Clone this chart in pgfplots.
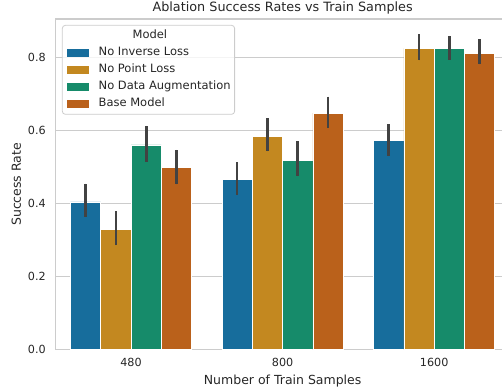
\documentclass[border=0pt]{standalone}
\usepackage{fontspec}
\setmainfont{DejaVu Sans}
\usepackage{pgfplots}
\pgfplotsset{compat=1.18}
\definecolor{cblue}{HTML}{176D9C}
\definecolor{corange}{HTML}{C38820}
\definecolor{cgreen}{HTML}{168B6A}
\definecolor{cred}{HTML}{BA611B}
\definecolor{errgray}{HTML}{424242}
\definecolor{linegray}{HTML}{CCCCCC}
\definecolor{textgray}{HTML}{262626}
\pgfplotsset{
  mybar/.style={fill=#1, draw=white, line width=0.7pt,
    legend image code/.code={\path (0pt,0pt); \fill[#1, draw=none, fill opacity=1, sharp corners] (2pt,-3.8pt) rectangle (24pt,3.8pt);},
    error bars/.cd, y dir=both, y explicit,
    error mark=none,
    error bar style={line width=2.6pt, color=errgray}},
}
\begin{document}
\begin{tikzpicture}
\begin{axis}[
  scale only axis, width=455pt, height=331pt,
  xmin=-0.5, xmax=2.5, ymin=0, ymax=0.904,
  ybar, bar width=30.3pt, bar shift=0pt,
  xtick={0,1,2}, xticklabels={480,800,1600},
  ytick={0,0.2,0.4,0.6,0.8},
  yticklabel style={/pgf/number format/fixed, /pgf/number format/fixed zerofill, /pgf/number format/precision=1, /pgf/number format/assume math mode=true, xshift=-6pt},
  major tick length=0pt,
  ymajorgrids, grid style={color=linegray, line width=1pt},
  axis line style={color=linegray, line width=1.25pt},
  tick label style={font=\fontsize{11.2}{13}\selectfont, color=textgray},
  xticklabel style={yshift=-5pt},
  every axis x label/.style={at={(axis description cs:0.5,0)}, yshift=-31.5pt, anchor=center},
  every axis y label/.style={at={(axis description cs:0,0.5)}, xshift=-39pt, rotate=90, anchor=center},
  label style={font=\fontsize{12.5}{14}\selectfont, color=textgray},
  xlabel={Number of Train Samples},
  ylabel={Success Rate},
  title={Ablation Success Rates vs Train Samples},
  every axis title/.style={at={(axis description cs:0.5,1)}, yshift=11pt, anchor=center, font=\fontsize{12.8}{14}\selectfont, color=textgray},
  legend style={at={(0.0147,0.982)}, anchor=north west, draw=linegray, line width=0.8pt,
    rounded corners=3pt, fill=white, fill opacity=0.8, text opacity=1, draw opacity=1,
    font=\fontsize{11.5}{13}\selectfont, text=textgray, inner sep=2pt,
    nodes={text height=8.5pt, text depth=2.5pt, inner ysep=3pt},
    /tikz/every odd column/.append style={column sep=8pt}},
  legend cell align=left,
]
\addlegendimage{empty legend}
\addlegendentry{\hspace*{34pt}Model}
\addplot[mybar=cblue] coordinates {
  (-0.3,0.404) += (0,0.050) -= (0,0.041)
  (0.7,0.466) += (0,0.047) -= (0,0.043)
  (1.7,0.573) += (0,0.044) -= (0,0.044)
};
\addlegendentry{No Inverse Loss}
\addplot[mybar=corange] coordinates {
  (-0.1,0.330) += (0,0.049) -= (0,0.044)
  (0.9,0.583) += (0,0.050) -= (0,0.041)
  (1.9,0.824) += (0,0.038) -= (0,0.033)
};
\addlegendentry{No Point Loss}
\addplot[mybar=cgreen] coordinates {
  (0.1,0.560) += (0,0.052) -= (0,0.046)
  (1.1,0.518) += (0,0.052) -= (0,0.044)
  (2.1,0.824) += (0,0.034) -= (0,0.031)
};
\addlegendentry{No Data Augmentation}
\addplot[mybar=cred] coordinates {
  (0.3,0.498) += (0,0.048) -= (0,0.046)
  (1.3,0.647) += (0,0.045) -= (0,0.040)
  (2.3,0.811) += (0,0.038) -= (0,0.031)
};
\addlegendentry{Base Model}
\end{axis}
\pgfresetboundingbox
\useasboundingbox ([xshift=-55.3pt,yshift=-39pt]current axis.south west) rectangle ([xshift=-8pt,yshift=19pt]current axis.north east);
\end{tikzpicture}
\end{document}
